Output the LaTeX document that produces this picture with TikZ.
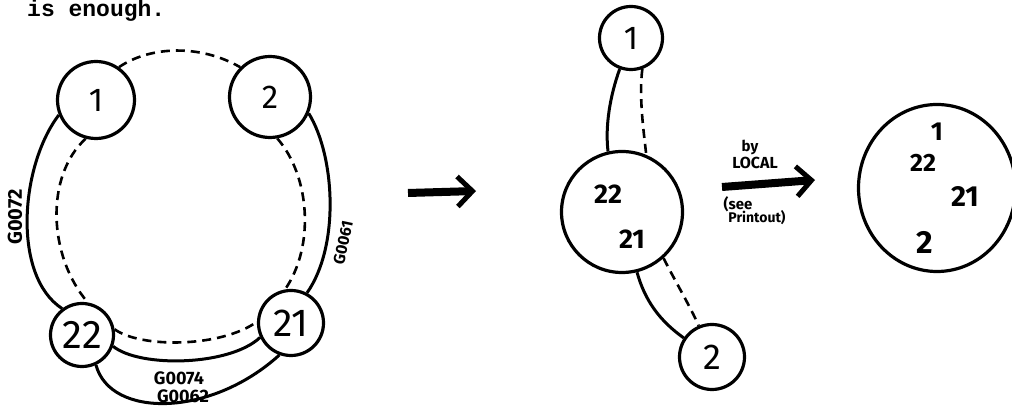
\documentclass[tikz,border=0pt]{standalone}
\usepackage{fontspec}
\setmainfont{Fira Sans}
\newfontfamily\typew{Liberation Mono}
\usetikzlibrary{arrows.meta,shapes.geometric}
\begin{document}
\begin{tikzpicture}[x=1pt,y=1pt,
  ring/.style={circle,draw,line width=3.2pt,inner sep=0pt},
  link/.style={line width=3pt},
  dlink/.style={line width=2.6pt,dash pattern=on 9pt off 6pt},
  fs/.style={font=\fontsize{#1}{#1}\selectfont},
  fsb/.style={font=\fontsize{#1}{#1}\selectfont\bfseries},
  lab/.style={font=\fontsize{#1}{#1}\selectfont\bfseries,inner sep=0pt},
  bigarrow/.style={line width=8pt,-{Straight Barb[length=15pt,width=30pt,line width=5pt]}}
]
\useasboundingbox (0,0) rectangle (1012,406);

% title
\node[anchor=base west,inner sep=0pt,font=\typew\bfseries\fontsize{23}{23}\selectfont] (title) at (27,389) {is enough.};

% ---- left ring ----
\node[ring,minimum size=77pt,fs=33] (c1) at (96,306) {1};
\node[ring,minimum size=81pt,fs=33] (c2) at (270,309) {2};
\node[ring,minimum size=63pt,fs=40] (c22) at (82,71) {22};
\node[ring,minimum size=65pt,fs=39] (c21) at (291,83) {21};

\draw[link] (c1.202) .. controls (20,240) and (12,130) .. (c22.127);
\draw[link] (c2.337) .. controls (335,250) and (340,160) .. (c21.62);
\draw[dlink] (c1.255) .. controls (45,230) and (48,150) .. (c22.80);
\draw[dlink] (c2.280) .. controls (310,230) and (315,160) .. (c21.100);
\draw[dlink] (c1.55) .. controls (150,360) and (200,362) .. (c2.135);
\draw[dlink] (c22.10) .. controls (140,58) and (220,58) .. (c21.178);
\draw[link] (c22.340) .. controls (140,38) and (230,40) .. (c21.205);
\draw[link] (c22.295) .. controls (110,-12) and (210,-12) .. (c21.250);

\node[lab=20,rotate=90] (g72) at (15,189) {G0072};
\node[lab=16,rotate=78] (g61) at (343,163) {G0061};
\node[lab=18] (g74) at (179,28) {G0074};
\node[lab=18] (g62) at (183,10) {G0062};

% arrow 1
\coordinate (a1s) at (408,213);
\coordinate (a1e) at (476,215);
\draw[bigarrow] (a1s) -- (a1e);

% ---- middle ----
\node[ring,minimum size=63pt,fs=33] (m1) at (631,368) {1};
\node[ring,minimum size=121pt] (mb) at (622,194) {};
\node[ring,minimum size=65pt,fs=36] (m2) at (712,49) {2};
\node[fsb=27] (mb22) at (608,212) {22};
\node[fsb=27] (mb21) at (632,167) {21};

\draw[link] (m1.250) .. controls (610,310) and (605,280) .. (mb.103);
\draw[dlink] (m1.290) .. controls (639,310) and (643,280) .. (mb.67);
\draw[link] (mb.284) .. controls (645,105) and (660,85) .. (m2.146);
\draw[dlink] (mb.312) .. controls (675,125) and (690,100) .. (m2.113);

% arrow 2
\coordinate (a2s) at (722,219);
\coordinate (a2e) at (815,226);
\draw[bigarrow] (a2s) -- (a2e);
\node[lab=15] (by) at (750,259) {by};
\node[lab=16] (local) at (755,243) {LOCAL};
\node[lab=15] (see) at (738,202) {(see};
\node[lab=14] (prt) at (757,188) {Printout)};

% ---- right ----
\node[ellipse,draw,line width=3.2pt,minimum width=157pt,minimum height=167pt,inner sep=0pt] (rr) at (937,218) {};
\node[fsb=26] (r1) at (937,274) {1};
\node[fsb=25] (r22) at (923,243) {22};
\node[fsb=29] (r21) at (965,209) {21};
\node[fsb=32] (r2) at (925,164) {2};
\end{tikzpicture}
\end{document}
